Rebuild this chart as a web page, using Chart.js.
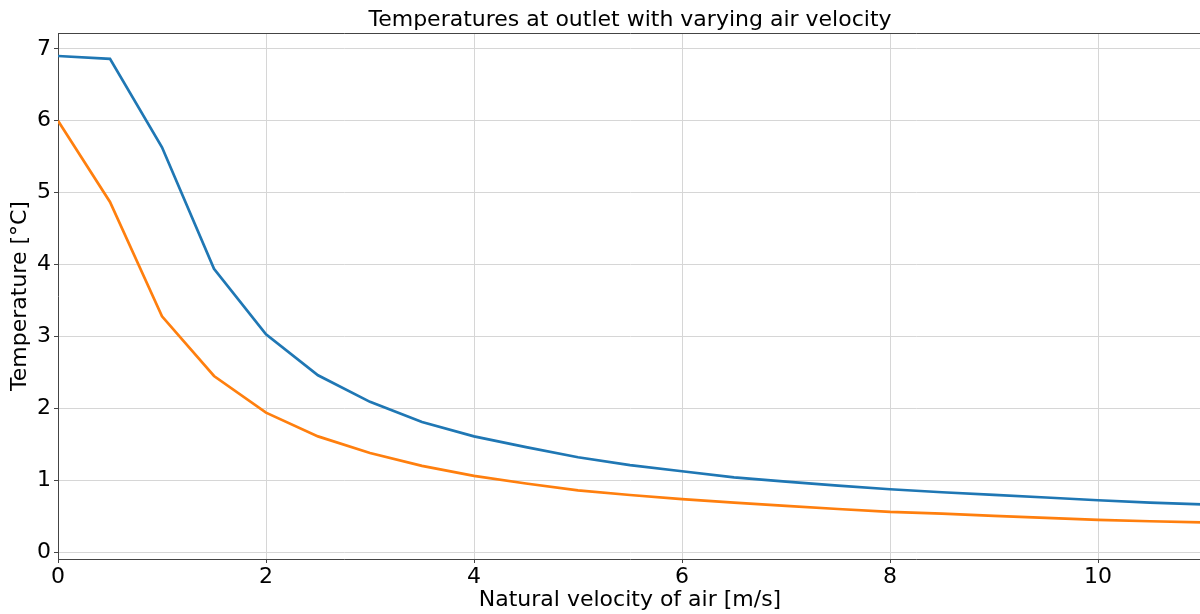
<!DOCTYPE html>
<html>
<head>
<meta charset="utf-8">
<script src="https://cdn.jsdelivr.net/npm/chart.js@4"></script>
<style>
  html, body { margin: 0; padding: 0; background: #fff; overflow: hidden; }
  #wrap { width: 1202px; height: 614px; }
</style>
</head>
<body>
<div id="wrap"><canvas id="chart"></canvas></div>
<script>
/* DATA */
const velocity = [0, 0.5, 1, 1.5, 2, 2.5, 3, 3.5, 4, 4.5, 5, 5.5, 6, 6.5, 7, 7.5, 8, 8.5, 9, 9.5, 10, 10.5, 11];
const tempUpper = [6.90, 6.86, 5.63, 3.94, 3.03, 2.46, 2.09, 1.81, 1.61, 1.46, 1.32, 1.21, 1.125, 1.04, 0.98, 0.926, 0.875, 0.833, 0.796, 0.76, 0.722, 0.69, 0.665];
const tempLower = [6.00, 4.87, 3.28, 2.45, 1.94, 1.61, 1.38, 1.20, 1.06, 0.955, 0.86, 0.795, 0.737, 0.69, 0.643, 0.60, 0.56, 0.537, 0.505, 0.477, 0.449, 0.43, 0.415];
const xTicks = [0, 2, 4, 6, 8, 10];
const yTicks = [0, 1, 2, 3, 4, 5, 6, 7];

const FONT = "'DejaVu Sans', sans-serif";
const SPINE = "#444";
const GRID = "#d6d6d6";

const toPts = ys => velocity.map((v, i) => ({ x: v, y: ys[i] }));

new Chart(document.getElementById("chart"), {
  type: "line",
  data: {
    datasets: [
      { data: toPts(tempUpper), borderColor: "#1f77b4", borderWidth: 2.7, pointRadius: 0, tension: 0 },
      { data: toPts(tempLower), borderColor: "#ff7f0e", borderWidth: 2.7, pointRadius: 0, tension: 0 }
    ]
  },
  options: {
    responsive: true,
    maintainAspectRatio: false,
    animation: false,
    layout: { padding: 0 },
    plugins: {
      legend: { display: false },
      tooltip: { enabled: false }
    },
    scales: {
      x: {
        type: "linear",
        min: 0,
        max: 11,
        afterBuildTicks: s => { s.ticks = xTicks.map(v => ({ value: v })); },
        afterFit: s => { s.height = 55; },
        grid: { color: GRID, lineWidth: 1, tickColor: SPINE, tickLength: 4 },
        border: { color: SPINE, width: 1 },
        ticks: { color: "#000", font: { family: FONT, size: 22 }, padding: 1, maxRotation: 0 },
        title: {
          display: true,
          text: "Natural velocity of air [m/s]",
          color: "#000",
          font: { family: FONT, size: 22 },
          padding: { top: 0, bottom: 1 }
        }
      },
      // top axis: carries the top spine and the title centred over the plot
      top: {
        type: "linear",
        position: "top",
        min: 0,
        max: 11,
        afterFit: s => { s.height = 33; },
        grid: { display: false },
        border: { display: true, color: SPINE, width: 1 },
        ticks: { display: false },
        title: {
          display: true,
          text: "Temperatures at outlet with varying air velocity",
          color: "#000",
          font: { family: FONT, size: 22 },
          padding: { top: 7, bottom: 0 }
        }
      },
      y: {
        min: -0.095,
        max: 7.22,
        afterBuildTicks: s => { s.ticks = yTicks.map(v => ({ value: v })); },
        afterFit: s => { s.width = 58; },
        grid: { color: GRID, lineWidth: 1, tickColor: SPINE, tickLength: 4 },
        border: { color: SPINE, width: 1 },
        ticks: { color: "#000", font: { family: FONT, size: 22 }, padding: 3 },
        title: {
          display: true,
          text: "Temperature [°C]",
          color: "#000",
          font: { family: FONT, size: 22 },
          padding: { top: 7, bottom: 0 }
        }
      }
    }
  }
});
</script>
</body>
</html>
